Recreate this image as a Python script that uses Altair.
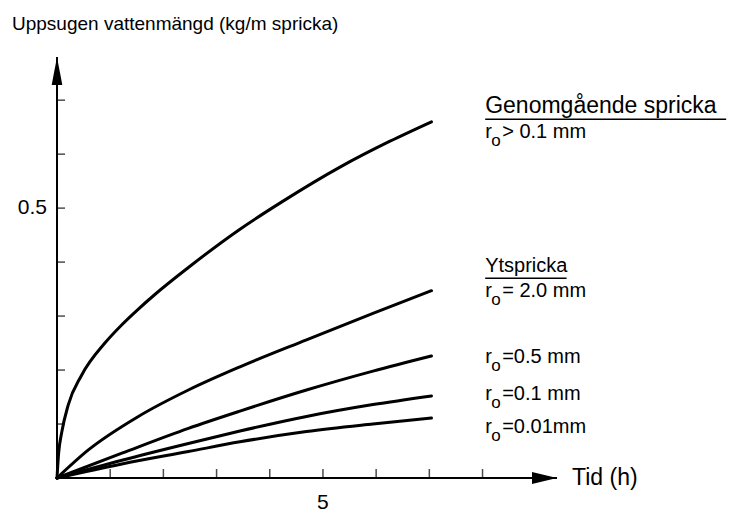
import altair as alt
import pandas as pd

# Absorbed water (kg per metre of crack) against time (h)
t_through = [0, 0.03, 0.09, 0.21, 0.46, 0.90, 1.22, 1.53, 1.84, 2.47, 3.44, 4.25, 5.32, 6.26, 7.04]
v_through = [0, 0.045, 0.085, 0.135, 0.190, 0.250, 0.284, 0.313, 0.340, 0.390, 0.461, 0.513, 0.576, 0.624, 0.660]

t_r20 = [0, 0.59, 1.53, 2.47, 3.44, 4.69, 5.94, 7.04]
v_r20 = [0, 0.052, 0.114, 0.163, 0.206, 0.256, 0.305, 0.347]

t_small = [0, 1.22, 2.47, 3.44, 4.69, 5.94, 7.04]
v_r05 = [0, 0.046, 0.092, 0.124, 0.163, 0.198, 0.226]
v_r01 = [0, 0.033, 0.064, 0.087, 0.114, 0.136, 0.152]
v_r001 = [0, 0.026, 0.049, 0.067, 0.086, 0.100, 0.111]

x_ticks = [1, 2, 3, 4, 5, 6, 7, 8]
y_ticks = [0.1, 0.2, 0.3, 0.4, 0.5, 0.6, 0.7]
x_labels = [5]
y_labels = [0.5]

# Curve annotations: r_o part and the remainder, anchored in data units
ann_rest = ["> 0.1 mm", "= 2.0 mm", "=0.5 mm", "=0.1 mm", "=0.01mm"]
ann_y = [0.630, 0.335, 0.213, 0.144, 0.083]
head_text = ["Genomgående spricka", "Ytspricka"]
head_y = [0.676, 0.381]
head_size = [23, 20]
head_x_end = [12.58, 9.58]

X_MAX, Y_MAX = 9.4, 0.78
ANN_X = 8.05
FONT = "Liberation Sans"

series = []
for name, ts, vs in [
    ("through", t_through, v_through),
    ("r2.0", t_r20, v_r20),
    ("r0.5", t_small, v_r05),
    ("r0.1", t_small, v_r01),
    ("r0.01", t_small, v_r001),
]:
    series += [{"series": name, "t": t, "v": v} for t, v in zip(ts, vs)]
curves_df = pd.DataFrame(series)

xs = alt.Scale(domain=[0, X_MAX])
ys = alt.Scale(domain=[0, Y_MAX])


def X(field):
    return alt.X(field, scale=xs, axis=None)


def Y(field):
    return alt.Y(field, scale=ys, axis=None)


curves = alt.Chart(curves_df).mark_line(
    color="black", strokeWidth=3, interpolate="monotone", strokeCap="round"
).encode(x=X("t:Q"), y=Y("v:Q"), detail="series:N")

axes_df = pd.DataFrame({"x": [0, 0], "y": [0, 0], "x2": [0, X_MAX], "y2": [Y_MAX, 0]})
axes = alt.Chart(axes_df).mark_rule(color="black", strokeWidth=2).encode(
    x=X("x:Q"), y=Y("y:Q"), x2="x2:Q", y2="y2:Q"
)

arrow_up = alt.Chart(pd.DataFrame({"x": [0], "y": [Y_MAX]})).mark_point(
    shape="M0,0L0.38,2L-0.38,2Z", size=784, filled=True, color="black", opacity=1, strokeWidth=0
).encode(x=X("x:Q"), y=Y("y:Q"))

arrow_right = alt.Chart(pd.DataFrame({"x": [X_MAX], "y": [0]})).mark_point(
    shape="M0,0L-2,-0.48L-2,0.48Z", size=625, filled=True, color="black", opacity=1, strokeWidth=0
).encode(x=X("x:Q"), y=Y("y:Q"))

yt = alt.Chart(pd.DataFrame({"y": y_ticks, "x": [0] * len(y_ticks)})).mark_tick(
    orient="horizontal", size=8, thickness=1.5, xOffset=4, color="black"
).encode(x=X("x:Q"), y=Y("y:Q"))

xt = alt.Chart(pd.DataFrame({"x": x_ticks, "y": [0] * len(x_ticks)})).mark_tick(
    orient="vertical", size=9, thickness=1.5, yOffset=-4.5, color="black"
).encode(x=X("x:Q"), y=Y("y:Q"))

ylab = alt.Chart(pd.DataFrame({"y": y_labels, "x": [0] * len(y_labels)})).mark_text(
    align="right", baseline="middle", dx=-10, font=FONT, fontSize=21
).encode(x=X("x:Q"), y=Y("y:Q"), text=alt.Text("y:Q", format=".1f"))

xlab = alt.Chart(pd.DataFrame({"x": x_labels, "y": [0] * len(x_labels)})).mark_text(
    align="center", baseline="top", dy=14, font=FONT, fontSize=21
).encode(x=X("x:Q"), y=Y("y:Q"), text=alt.Text("x:Q", format="d"))

xtitle = alt.Chart(pd.DataFrame({"x": [X_MAX], "y": [0], "s": ["Tid (h)"]})).mark_text(
    align="left", baseline="middle", dx=15, font=FONT, fontSize=23
).encode(x=X("x:Q"), y=Y("y:Q"), text="s:N")

ytitle = alt.Chart(pd.DataFrame({"x": [0], "y": [Y_MAX], "s": ["Uppsugen vattenmängd (kg/m spricka)"]})).mark_text(
    align="left", baseline="alphabetic", dx=-45, dy=-27, font=FONT, fontSize=19
).encode(x=X("x:Q"), y=Y("y:Q"), text="s:N")

ann_df = pd.DataFrame({"x": [ANN_X] * len(ann_y), "y": ann_y, "rest": ann_rest,
                       "r": ["r"] * len(ann_y), "o": ["o"] * len(ann_y)})
ann_r = alt.Chart(ann_df).mark_text(
    align="left", baseline="alphabetic", font=FONT, fontSize=20
).encode(x=X("x:Q"), y=Y("y:Q"), text="r:N")
ann_o = alt.Chart(ann_df).mark_text(
    align="left", baseline="alphabetic", dx=6, dy=8, font=FONT, fontSize=17
).encode(x=X("x:Q"), y=Y("y:Q"), text="o:N")
ann_rest_l = alt.Chart(ann_df).mark_text(
    align="left", baseline="alphabetic", dx=17, font=FONT, fontSize=20
).encode(x=X("x:Q"), y=Y("y:Q"), text="rest:N")

head_df = pd.DataFrame({"x": [ANN_X] * len(head_y), "y": head_y, "s": head_text,
                        "size": head_size, "x2": head_x_end})
heads = alt.Chart(head_df).mark_text(
    align="left", baseline="alphabetic", font=FONT
).encode(
    x=X("x:Q"), y=Y("y:Q"), text="s:N",
    size=alt.Size("size:Q", scale=None, legend=None),
)
underline = alt.Chart(head_df).mark_rule(color="black", strokeWidth=1.5, yOffset=6).encode(
    x=X("x:Q"), x2="x2:Q", y=Y("y:Q")
)

chart = alt.layer(
    axes, yt, xt, arrow_up, arrow_right, curves, ylab, xlab, xtitle, ytitle,
    ann_r, ann_o, ann_rest_l, heads, underline,
).properties(
    width=500,
    height=421,
    autosize=alt.AutoSizeParams(type="none"),
    padding={"left": 57, "top": 57, "right": 177, "bottom": 34},
).configure_view(stroke=None)

chart.save("out.html", embed_options={"renderer": "svg", "actions": False})
